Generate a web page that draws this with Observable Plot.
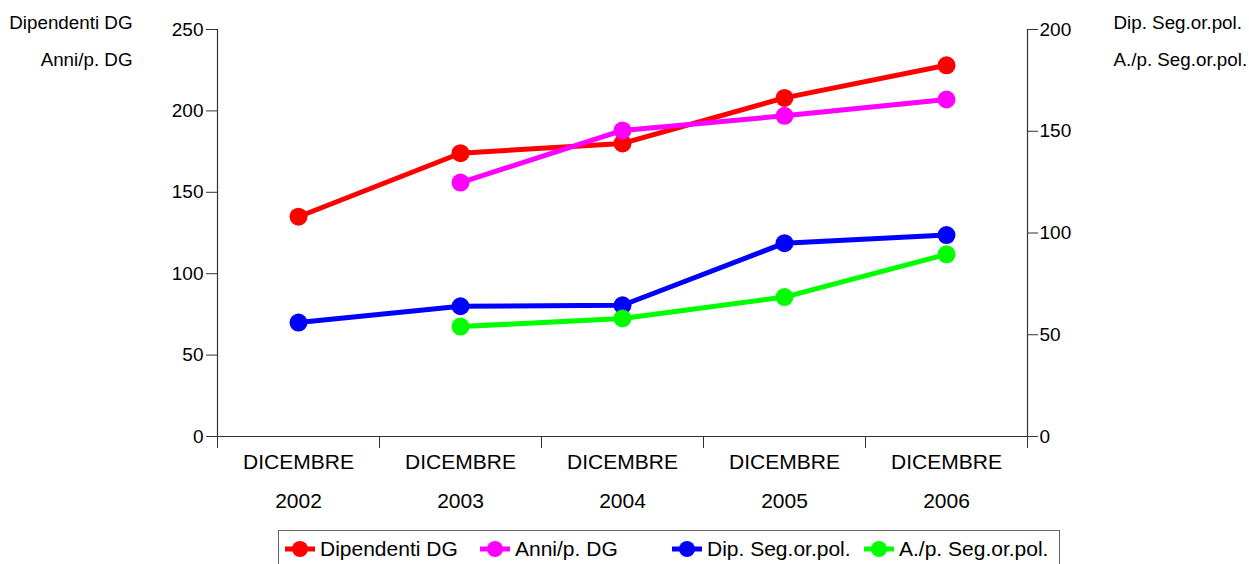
<!DOCTYPE html>
<html>
<head>
<meta charset="utf-8">
<script src="https://cdn.jsdelivr.net/npm/d3@7"></script>
<script src="https://cdn.jsdelivr.net/npm/@observablehq/plot@0.6"></script>
<style>
  body { margin: 0; background: #fff; font-family: "Liberation Sans", Arial, sans-serif; }
  #legend { position: relative; margin-left: 278px; margin-top: 2px; width: 780px; height: 40px; border: 1px solid #666; }
  .item { position: absolute; top: 0; height: 36px; display: flex; align-items: center; font-size: 21px; color: #000; }
  .item svg { margin-right: 4px; }
</style>
</head>
<body>
<div id="chart"></div>
<div id="legend"></div>
<script>
const years = ["2002", "2003", "2004", "2005", "2006"];
const monthLabel = "DICEMBRE";
const seriesNames = ["Dipendenti DG", "Anni/p. DG", "Dip. Seg.or.pol.", "A./p. Seg.or.pol."];
const seriesColors = ["#ff0000", "#ff00ff", "#0000ff", "#00ff00"];
const seriesAxis = ["left", "left", "right", "right"];
// left-axis series
const dipendentiDG = [135, 174, 180, 208, 228];
const anniDG = [null, 156, 188, 197, 207];
// right-axis series
const dipSeg = [56, 64, 64.5, 95, 99];
const apSeg = [null, 54, 58, 68.5, 89.5];
const leftTicks = [0, 50, 100, 150, 200, 250];
const rightTicks = [0, 50, 100, 150, 200];
const leftMax = 250, rightMax = 200;
const k = leftMax / rightMax;

const allValues = [dipendentiDG, anniDG, dipSeg, apSeg];
const data = [];
allValues.forEach((vals, s) => {
  vals.forEach((v, i) => {
    if (v == null) return;
    data.push({i, series: seriesNames[s], color: seriesColors[s], v: seriesAxis[s] === "right" ? v * k : v});
  });
});

const bounds = d3.range(years.length + 1).map(d => d - 0.5);
const centers = d3.range(years.length);
const axisColor = "#333";

const chart = Plot.plot({
  width: 1249,
  height: 528,
  marginLeft: 217,
  marginRight: 222,
  marginTop: 29,
  marginBottom: 92,
  x: {type: "linear", domain: [-0.5, years.length - 0.5]},
  y: {domain: [0, leftMax]},
  style: {fontFamily: "'Liberation Sans', Arial, sans-serif", color: "#000", background: "#fff"},
  marks: [
    Plot.ruleX([-0.5, years.length - 0.5], {stroke: axisColor, strokeWidth: 1.2}),
    Plot.ruleY([0], {stroke: axisColor, strokeWidth: 1.2}),
    Plot.axisY({ticks: leftTicks, tickSize: 11, tickPadding: 3, label: null, fontSize: 19, stroke: axisColor}),
    Plot.axisY({anchor: "right", ticks: rightTicks.map(d => d * k), tickFormat: d => String(Math.round(d / k)), tickSize: 10, tickPadding: 2, label: null, fontSize: 19, stroke: axisColor}),
    Plot.axisX({ticks: bounds, tickFormat: () => "", tickSize: 12, label: null, stroke: axisColor}),
    Plot.axisX({ticks: centers, tickSize: 0, tickPadding: 5, tickFormat: i => `${monthLabel}\n${years[i]}`, lineHeight: 1.86, fontSize: 21, label: null}),
    Plot.line(data, {x: "i", y: "v", z: "series", stroke: "color", strokeWidth: 5}),
    Plot.dot(data, {x: "i", y: "v", fill: "color", r: 9}),
    Plot.text([seriesNames[0]], {text: d => d, frameAnchor: "top-left", dx: -85, dy: -7, textAnchor: "end", lineAnchor: "middle", fontSize: 18.8}),
    Plot.text([seriesNames[1]], {text: d => d, frameAnchor: "top-left", dx: -85, dy: 30, textAnchor: "end", lineAnchor: "middle", fontSize: 18.8}),
    Plot.text([seriesNames[2]], {text: d => d, frameAnchor: "top-right", dx: 86, dy: -7, textAnchor: "start", lineAnchor: "middle", fontSize: 18.8}),
    Plot.text([seriesNames[3]], {text: d => d, frameAnchor: "top-right", dx: 86, dy: 30, textAnchor: "start", lineAnchor: "middle", fontSize: 18.8})
  ]
});
document.getElementById("chart").appendChild(chart);

const legendX = [5, 200, 392, 584];
const legend = document.getElementById("legend");
seriesNames.forEach((name, s) => {
  const item = document.createElement("div");
  item.className = "item";
  item.style.left = legendX[s] + "px";
  item.innerHTML = `<svg width="32" height="20"><line x1="1" x2="31" y1="10" y2="10" stroke="${seriesColors[s]}" stroke-width="5"/><circle cx="16" cy="10" r="8" fill="${seriesColors[s]}"/></svg><span>${name}</span>`;
  legend.appendChild(item);
});
</script>
</body>
</html>
